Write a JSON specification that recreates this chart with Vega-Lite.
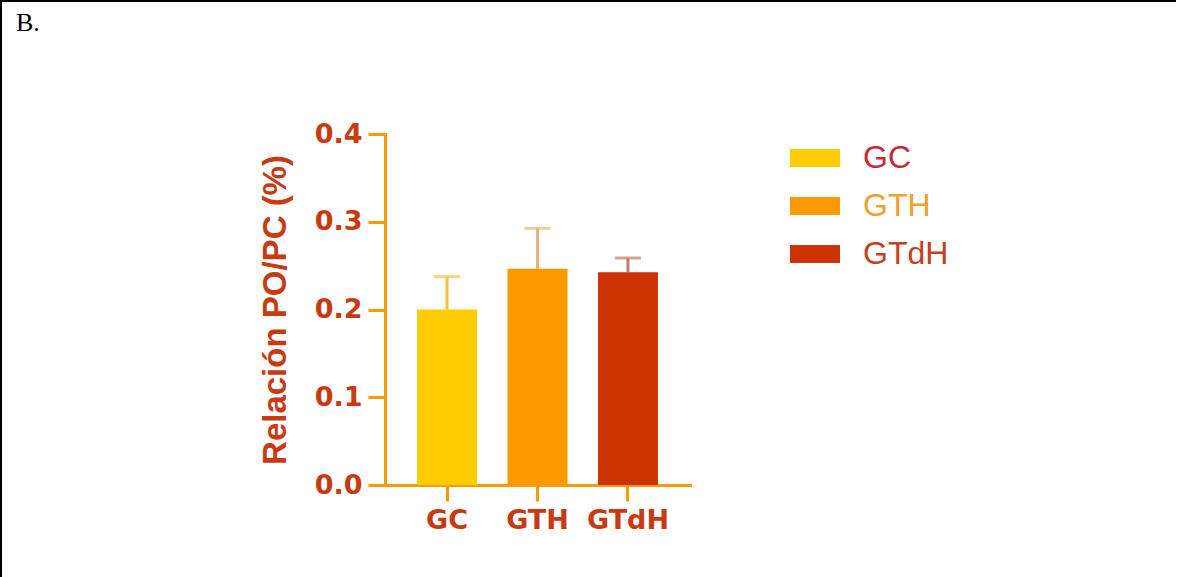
{
  "$schema": "https://vega.github.io/schema/vega-lite/v6.json",
  "background": "white",
  "autosize": {"type": "none"},
  "padding": {"left": 1, "top": 1, "right": 0, "bottom": 0},
  "width": 1175,
  "height": 576,
  "view": {"stroke": "black", "strokeWidth": 2, "strokeDash": [1175, 1751, 576], "fill": null},
  "title": {
    "text": "B.",
    "anchor": "start",
    "frame": "group",
    "orient": "top",
    "baseline": "alphabetic",
    "offset": 0,
    "dx": 15,
    "dy": 56,
    "font": "Liberation Serif",
    "fontSize": 26,
    "fontWeight": "normal",
    "color": "black"
  },
  "data": {
    "values": [
      {"grupo": "GC", "media": 0.2, "superior": 0.2375},
      {"grupo": "GTH", "media": 0.2465, "superior": 0.2925},
      {"grupo": "GTdH", "media": 0.2425, "superior": 0.2587}
    ]
  },
  "encoding": {
    "x": {
      "field": "grupo",
      "type": "nominal",
      "sort": ["GC", "GTH", "GTdH"],
      "scale": {"domain": ["GC", "GTH", "GTdH"], "range": [384, 689], "paddingInner": 0.337, "paddingOuter": 0.354},
      "axis": {
        "title": null,
        "offset": -92,
        "labelAngle": 0,
        "labelFont": "DejaVu Sans",
        "labelFontWeight": "bold",
        "labelFontSize": 27,
        "labelColor": "#c83a12",
        "labelPadding": 6,
        "domainColor": "#ff9900",
        "domainWidth": 3,
        "domainCap": "square",
        "tickColor": "#ff9900",
        "tickWidth": 3,
        "tickSize": 16
      }
    }
  },
  "layer": [
    {
      "mark": {"type": "rule", "strokeWidth": 3},
      "encoding": {
        "y": {
          "field": "media",
          "type": "quantitative",
          "scale": {"domain": [0, 0.4], "range": [484, 133], "nice": false},
          "axis": {
            "offset": -384,
            "values": [0, 0.1, 0.2, 0.3, 0.4],
            "format": ".1f",
            "grid": false,
            "title": "Relación PO/PC (%)",
            "titleFont": "Liberation Sans",
            "titleFontSize": 33,
            "titleFontWeight": "bold",
            "titleColor": "#c83a12",
            "titlePadding": 22,
            "labelFont": "DejaVu Sans",
            "labelFontWeight": "bold",
            "labelFontSize": 27,
            "labelColor": "#c83a12",
            "labelPadding": 6,
            "domainColor": "#ff9900",
            "domainWidth": 3,
            "domainCap": "square",
            "tickColor": "#ff9900",
            "tickWidth": 3,
            "tickSize": 17
          }
        },
        "y2": {"field": "superior"},
        "color": {
          "field": "grupo",
          "type": "nominal",
          "scale": {"domain": ["GC", "GTH", "GTdH"], "range": ["#f4c23c", "#e6b676", "#c47866"]},
          "legend": null
        }
      }
    },
    {
      "mark": {"type": "tick", "thickness": 3, "size": 26},
      "encoding": {
        "y": {"field": "superior", "type": "quantitative"},
        "color": {
          "field": "grupo",
          "type": "nominal",
          "scale": {"domain": ["GC", "GTH", "GTdH"], "range": ["#f4c23c", "#e6b676", "#c47866"]},
          "legend": null
        }
      }
    },
    {
      "mark": {"type": "bar"},
      "encoding": {
        "y": {"field": "media", "type": "quantitative"},
        "color": {
          "field": "grupo",
          "type": "nominal",
          "scale": {"domain": ["GC", "GTH", "GTdH"], "range": ["#ffcc00", "#ff9900", "#cc3300"]},
          "legend": {
            "title": null,
            "orient": "none",
            "legendX": 789,
            "legendY": 132,
            "padding": 0,
            "symbolType": "M-1,-0.36H1V0.36H-1Z",
            "symbolSize": 2500,
            "symbolStrokeWidth": 0,
            "labelFont": "Liberation Sans",
            "labelFontSize": 32,
            "labelOffset": 23,
            "rowPadding": 7,
            "labelColor": {"expr": "datum.value === 'GC' ? '#c8283c' : datum.value === 'GTH' ? '#f0a030' : '#c4401e'"}
          }
        }
      }
    }
  ],
  "resolve": {"scale": {"color": "independent"}}
}
